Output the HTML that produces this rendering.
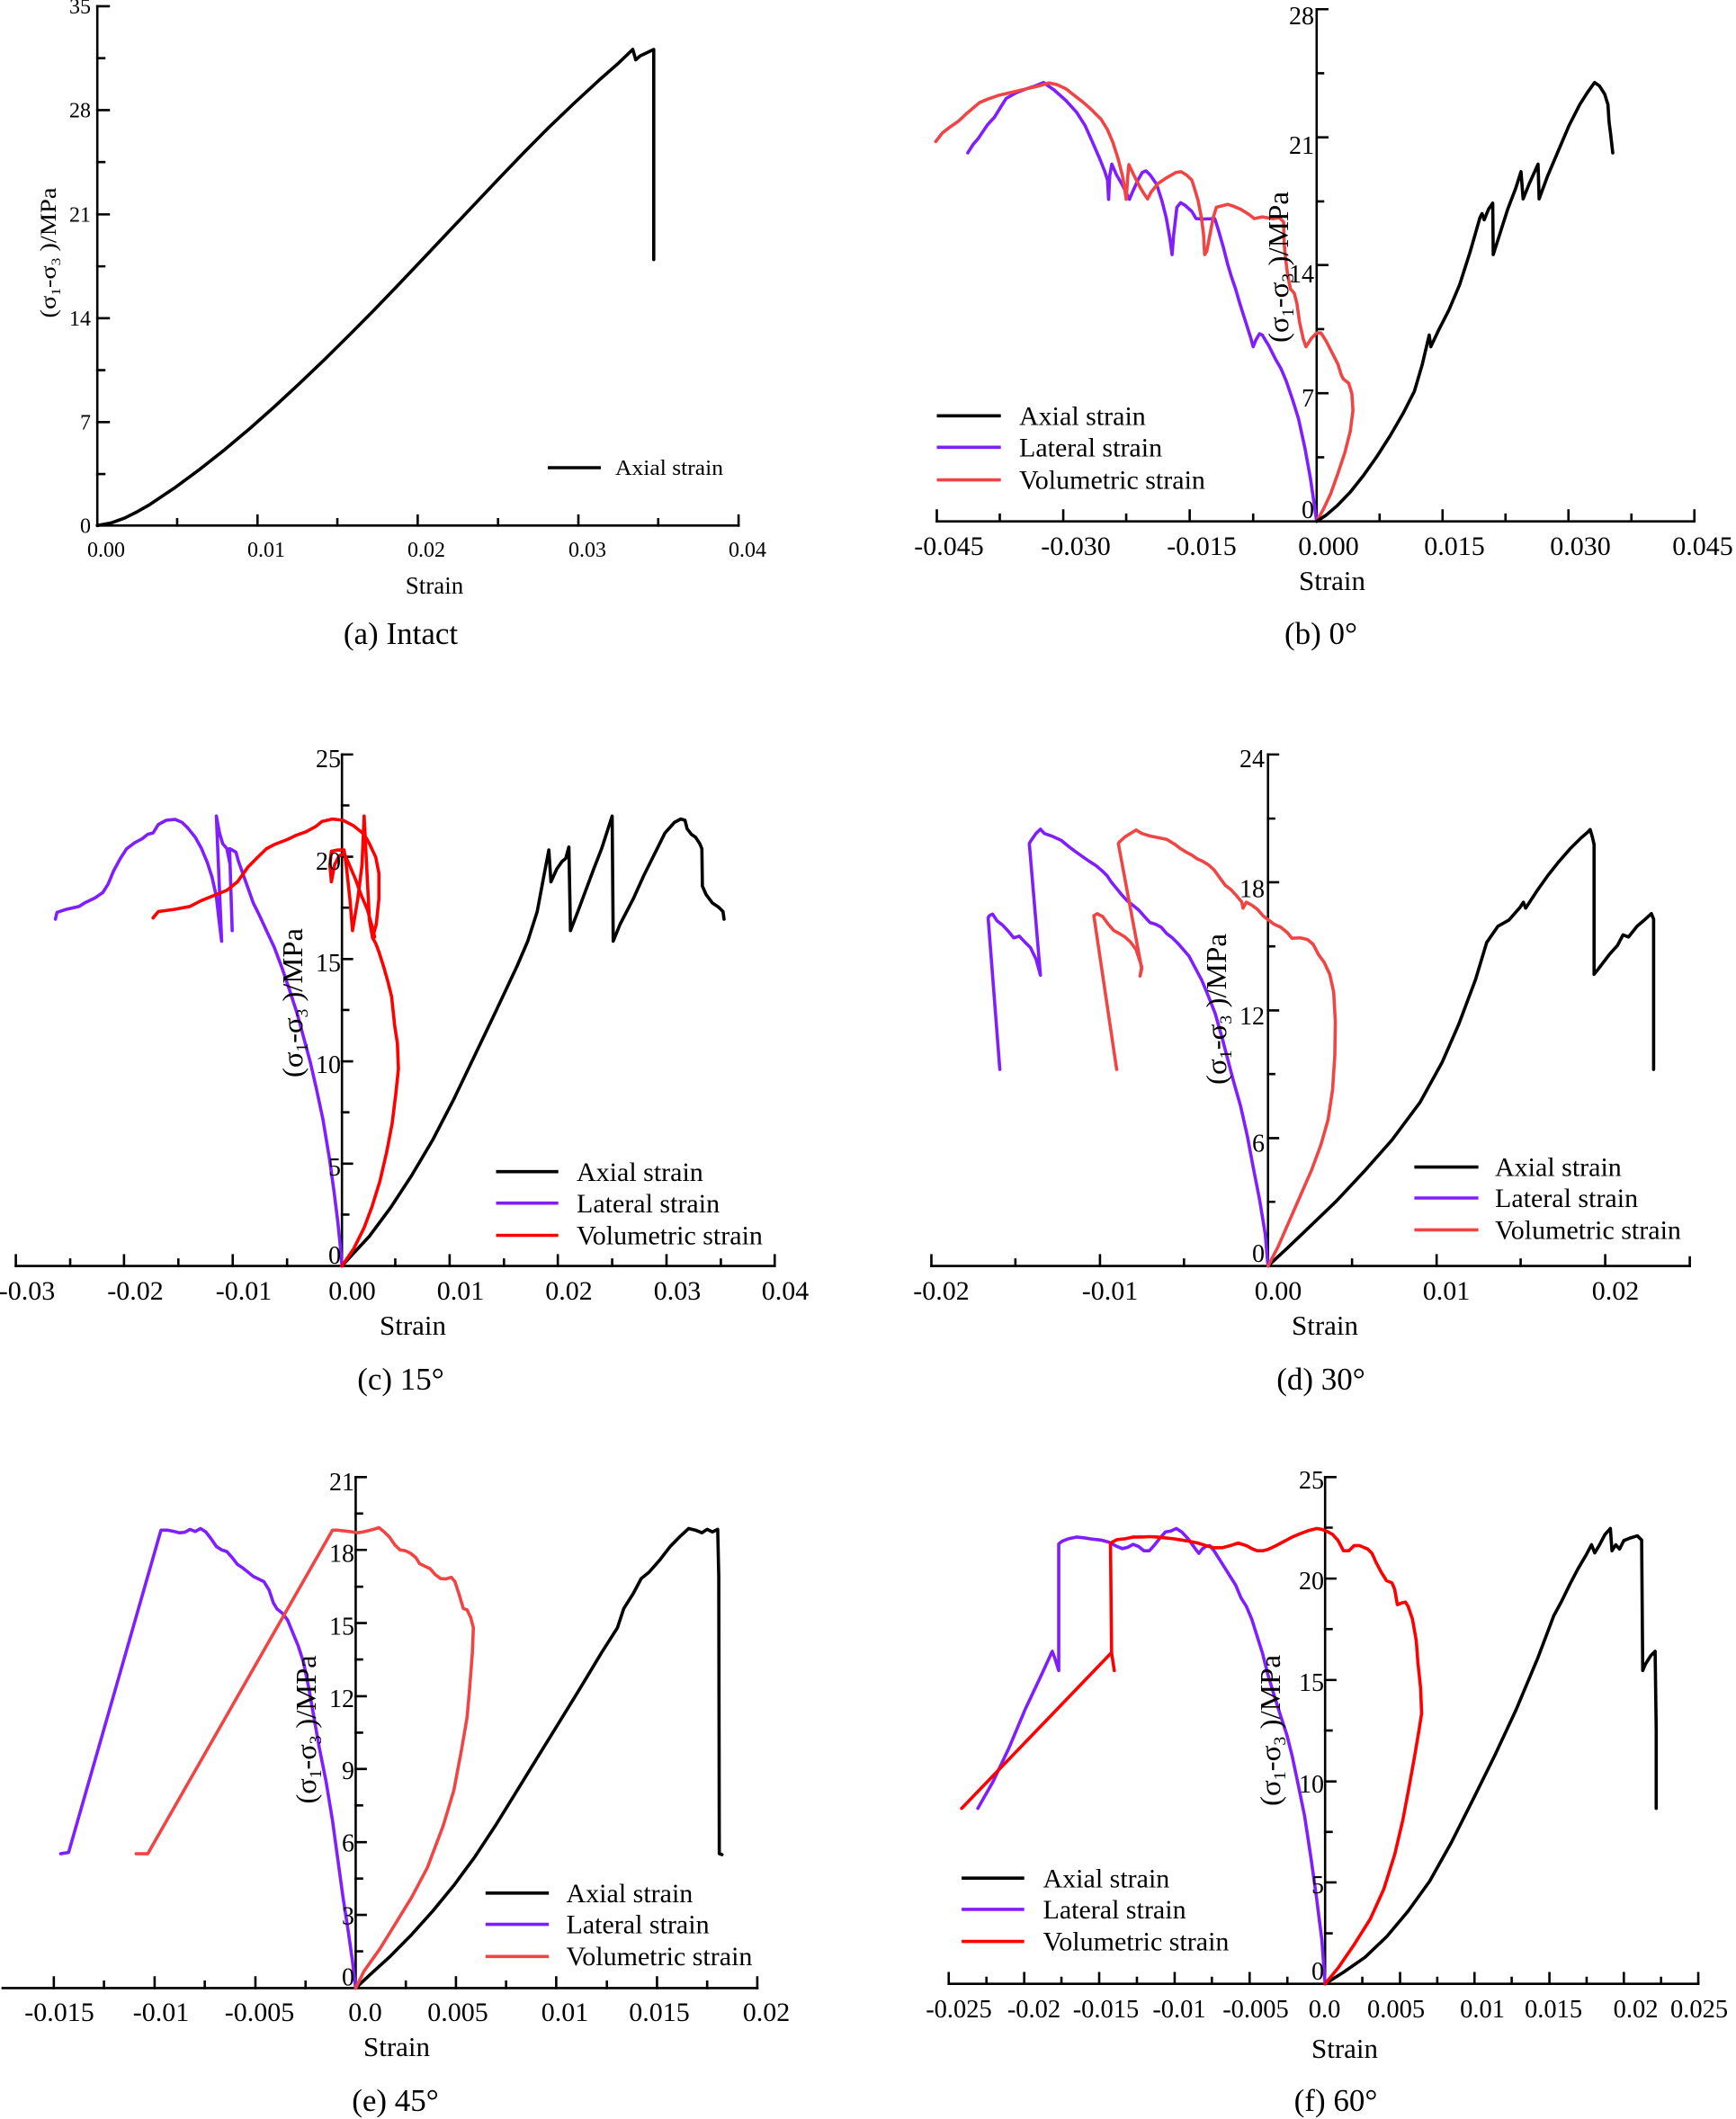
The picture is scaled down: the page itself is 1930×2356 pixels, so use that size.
<!DOCTYPE html>
<html>
<head>
<meta charset="utf-8">
<style>
html,body{margin:0;padding:0;background:#fff;}
svg{display:block;}
.ax{fill:none;stroke:#000;stroke-width:2.6;vector-effect:non-scaling-stroke;stroke-linecap:square}
.s{fill:none;stroke-width:3.6;stroke-linejoin:round;stroke-linecap:round;vector-effect:non-scaling-stroke}
.k{stroke:#000}
.p{stroke:#7f1fff}
.r{stroke:#f04545}
.rr{stroke:#ff0000}
text{font-family:"Liberation Serif","Times New Roman",serif;fill:#000}
.tl{font-size:30px}
.ty{font-size:28px}
.ta{font-size:24px}
.yl{text-anchor:end}
.xl{text-anchor:middle}
.lg{font-size:30px}
.st{font-size:31px;text-anchor:middle}
.cap{font-size:35px;text-anchor:middle}
.yt{font-size:32px;text-anchor:middle}
.ll{stroke-width:3.6;fill:none}
</style>
</head>
<body>
<svg width="1930" height="2356" viewBox="0 0 1930 2356" xmlns="http://www.w3.org/2000/svg">
<rect width="1930" height="2356" fill="#fff"/>

<!-- ================= (a) ================= -->
<g transform="translate(0,0) scale(0.5548,0.4656)">
  <path class="ax" d="M195,15 V1255 H1480"/>
  <path class="ax" d="M195,15h23M195,263h23M195,512h23M195,760h23M195,1008h23M195,139h14M195,387h14M195,636h14M195,884h14M195,1132h14"/>
  <path class="ax" d="M516,1255v-24M837,1255v-24M1159,1255v-24M1480,1255v-24M355,1255v-15M676,1255v-15M998,1255v-15M1319,1255v-15"/>
  <path class="s k" d="M195,1255 L222,1249 L250,1237 L275,1222 L300,1205 L350,1165 L400,1121 L450,1074 L500,1024 L550,971 L600,916 L650,859 L700,800 L750,740 L800,678 L850,615 L900,552 L950,489 L1000,426 L1050,364 L1100,304 L1150,247 L1200,192 L1240,150 L1268,118 L1274,143 L1282,134 L1310,118 L1310,620"/>
</g>
<g class="ta yl">
  <text x="101" y="15">35</text>
  <text x="101" y="130.5">28</text>
  <text x="101" y="246.4">21</text>
  <text x="101" y="361.9">14</text>
  <text x="101" y="477.3">7</text>
  <text x="101" y="592.3">0</text>
</g>
<g class="ta xl">
  <text x="118" y="619">0.00</text>
  <text x="296" y="619">0.01</text>
  <text x="474" y="619">0.02</text>
  <text x="653" y="619">0.03</text>
  <text x="831" y="619">0.04</text>
</g>
<text x="483" y="660" style="font-size:27px;text-anchor:middle">Strain</text>
<line x1="609" y1="520" x2="668" y2="520" class="ll" stroke="#000"/>
<text x="684" y="528" style="font-size:24px" textLength="120" lengthAdjust="spacingAndGlyphs">Axial strain</text>
<text transform="translate(62,281) rotate(-90)" style="font-size:25px;text-anchor:middle" textLength="145" lengthAdjust="spacingAndGlyphs">(σ<tspan font-size="15" dy="5">1</tspan><tspan dy="-5">-σ</tspan><tspan font-size="15" dy="5">3</tspan><tspan dy="-5"> )/MPa</tspan></text>
<text x="445.5" y="716" class="cap">(a) Intact</text>

<!-- ================= (b) ================= -->
<g transform="translate(1000,0) scale(0.5931,0.4656)">
  <path class="ax" d="M782,22 V1245 M70,1245 H1490"/>
  <path class="ax" d="M782,22h20M782,328h20M782,633h20M782,939h20M782,175h12M782,481h12M782,786h12M782,1092h12"/>
  <path class="ax" d="M70,1245v-26M307,1245v-26M544,1245v-26M1018,1245v-26M1254,1245v-26M1490,1245v-26M188,1245v-16M425,1245v-16M663,1245v-16M900,1245v-16M1136,1245v-16M1372,1245v-16"/>
  <path class="s p" d="M782,1245 L777,1200 L770,1140 L760,1070 L748,1000 L737,955 L725,910 L715,880 L705,858 L692,825 L680,800 L675,797 L668,812 L663,828 L658,805 L648,765 L638,725 L630,690 L622,660 L615,630 L607,590 L598,550 L591,522 L570,523 L556,522 L548,505 L535,490 L527,484 L520,495 L514,560 L511,608 L507,570 L500,520 L492,480 L482,440 L470,418 L462,408 L455,412 L447,430 L438,455 L431,476 L425,460 L417,440 L407,418 L398,392 L394,420 L392,476 L390,430 L385,410 L375,378 L362,340 L348,300 L332,268 L312,240 L290,215 L270,197 L255,205 L238,212 L218,222 L200,235 L190,255 L178,280 L165,298 L148,330 L138,345 L128,365"/>
  <path class="s r" d="M782,1245 L795,1215 L808,1180 L822,1130 L835,1080 L845,1030 L850,980 L848,940 L842,915 L832,905 L828,895 L822,870 L812,845 L800,815 L790,795 L782,795 L772,808 L762,828 L757,810 L750,770 L745,725 L740,700 L733,690 L728,660 L724,620 L721,580 L720,530 L712,520 L700,522 L680,518 L665,522 L655,512 L640,500 L625,492 L615,488 L600,493 L594,495 L588,520 L582,560 L576,600 L572,608 L570,560 L566,520 L560,480 L553,450 L548,430 L538,418 L528,410 L518,412 L500,425 L485,438 L472,458 L465,475 L458,462 L450,445 L440,420 L430,393 L428,420 L425,476 L422,450 L418,420 L410,380 L400,340 L390,310 L378,285 L360,262 L345,245 L328,228 L312,212 L295,202 L280,198 L262,205 L245,210 L225,216 L205,222 L185,228 L165,237 L150,245 L138,258 L125,272 L110,290 L95,303 L80,318 L68,338"/>
  <path class="s k" d="M782,1245 L800,1230 L820,1208 L845,1175 L870,1135 L895,1090 L920,1040 L945,985 L965,935 L980,870 L993,800 L996,828 L1010,790 L1030,740 L1050,680 L1070,600 L1088,520 L1092,510 L1096,525 L1104,500 L1112,485 L1113,608 L1125,560 L1140,500 L1155,450 L1165,410 L1169,475 L1180,440 L1197,392 L1199,475 L1215,420 L1235,360 L1255,300 L1275,250 L1290,220 L1303,197 L1312,205 L1322,225 L1328,250 L1330,290 L1333,320 L1337,365"/>
</g>
<g class="ty yl">
  <text x="1461" y="27">28</text>
  <text x="1461" y="171">21</text>
  <text x="1461" y="314">14</text>
  <text x="1461" y="452">7</text>
  <text x="1461" y="576">0</text>
</g>
<g class="tl xl">
  <text x="1055" y="617">-0.045</text>
  <text x="1196" y="617">-0.030</text>
  <text x="1336" y="617">-0.015</text>
  <text x="1477" y="617">0.000</text>
  <text x="1617" y="617">0.015</text>
  <text x="1757" y="617">0.030</text>
  <text x="1893" y="617">0.045</text>
</g>
<text x="1481" y="656" class="st">Strain</text>
<line x1="1041.5" y1="462.3" x2="1112.7" y2="462.3" class="ll" stroke="#000"/>
<line x1="1041.5" y1="497.3" x2="1112.7" y2="497.3" class="ll" stroke="#7f1fff"/>
<line x1="1041.5" y1="533.6" x2="1112.7" y2="533.6" class="ll" stroke="#f04545"/>
<text x="1133" y="472.5" class="lg">Axial strain</text>
<text x="1133" y="507.5" class="lg">Lateral strain</text>
<text x="1133" y="543.5" class="lg">Volumetric strain</text>
<text transform="translate(1432,297) rotate(-90)" class="yt" textLength="168" lengthAdjust="spacingAndGlyphs">(σ<tspan font-size="19" dy="6">1</tspan><tspan dy="-6">-σ</tspan><tspan font-size="19" dy="6">3</tspan><tspan dy="-6"> )/MPa</tspan></text>
<text x="1468.5" y="716" class="cap">(b) 0°</text>

<!-- ================= (c) ================= -->
<g transform="translate(0,820) scale(0.5867,0.4719)">
  <path class="ax" d="M648,40 V1245 M30,1245 H1468"/>
  <path class="ax" d="M648,40h19M648,281h19M648,522h19M648,763h19M648,1004h19M648,160h12M648,401h12M648,642h12M648,883h12M648,1124h12"/>
  <path class="ax" d="M30,1245v-25M235,1245v-25M441,1245v-25M852,1245v-25M1057,1245v-25M1263,1245v-25M1468,1245v-25M133,1245v-15M338,1245v-15M544,1245v-15M749,1245v-15M955,1245v-15M1160,1245v-15M1366,1245v-15"/>
  <path class="s k" d="M648,1245 L670,1215 L700,1175 L740,1108 L780,1032 L820,948 L860,852 L900,748 L940,644 L980,538 L1000,480 L1018,410 L1030,330 L1040,265 L1044,340 L1055,310 L1065,292 L1072,285 L1078,258 L1081,455 L1095,410 L1110,360 L1125,310 L1140,262 L1160,185 L1162,480 L1175,440 L1200,380 L1220,325 L1240,275 L1260,225 L1278,200 L1290,192 L1298,195 L1302,215 L1310,228 L1318,235 L1326,250 L1330,262 L1331,350 L1338,370 L1350,390 L1362,400 L1370,410 L1372,428"/>
  <path class="s p" d="M648,1245 L645,1200 L640,1140 L633,1070 L624,990 L612,900 L600,830 L588,765 L575,705 L563,650 L550,600 L535,545 L520,495 L505,455 L492,420 L480,390 L470,355 L460,320 L452,292 L447,270 L440,265 L435,262 L440,455 L436,300 L430,262 L422,250 L416,225 L410,185 L420,480 L415,430 L410,375 L402,330 L393,295 L382,262 L370,235 L355,212 L345,200 L332,193 L315,195 L300,205 L290,225 L280,228 L270,238 L255,248 L240,262 L228,285 L215,315 L205,345 L195,365 L180,378 L160,390 L150,398 L125,405 L108,412 L105,428"/>
  <path class="s rr" d="M648,1245 L670,1205 L690,1155 L705,1105 L720,1045 L733,975 L743,910 L750,840 L755,780 L753,720 L748,680 L742,610 L735,575 L727,540 L718,505 L712,485 L706,472 L713,440 L718,380 L718,320 L712,282 L700,250 L690,228 L670,208 L650,195 L630,192 L610,198 L598,210 L580,222 L562,230 L545,240 L520,252 L505,262 L490,280 L470,305 L450,340 L430,360 L410,370 L380,385 L360,398 L330,405 L300,410 L290,425 M706,472 L700,430 L690,185 L686,300 L678,380 L668,455 L663,380 L656,300 L652,265 L640,265 L628,268 L625,300 L628,340 L634,300 L642,280 L652,272 L662,300 L674,335 L684,370 L696,405 L704,440 L710,470"/>
</g>
<g class="ty yl">
  <text x="379" y="853">25</text>
  <text x="379" y="967">20</text>
  <text x="379" y="1080">15</text>
  <text x="379" y="1193">10</text>
  <text x="379" y="1307">5</text>
  <text x="379" y="1405">0</text>
</g>
<g class="tl xl">
  <text x="30" y="1445">-0.03</text>
  <text x="150.5" y="1445">-0.02</text>
  <text x="271" y="1445">-0.01</text>
  <text x="391.5" y="1445">0.00</text>
  <text x="512" y="1445">0.01</text>
  <text x="632.5" y="1445">0.02</text>
  <text x="753" y="1445">0.03</text>
  <text x="873" y="1445">0.04</text>
</g>
<text x="459" y="1484" class="st">Strain</text>
<line x1="551.5" y1="1302.7" x2="620.7" y2="1302.7" class="ll" stroke="#000"/>
<line x1="551.5" y1="1337.7" x2="620.7" y2="1337.7" class="ll" stroke="#7f1fff"/>
<line x1="551.5" y1="1373.5" x2="620.7" y2="1373.5" class="ll" stroke="#ff0000"/>
<text x="641" y="1313" class="lg">Axial strain</text>
<text x="641" y="1348" class="lg">Lateral strain</text>
<text x="641" y="1383.5" class="lg">Volumetric strain</text>
<text transform="translate(336,1115) rotate(-90)" class="yt" textLength="166" lengthAdjust="spacingAndGlyphs">(σ<tspan font-size="19" dy="6">1</tspan><tspan dy="-6">-σ</tspan><tspan font-size="19" dy="6">3</tspan><tspan dy="-6"> )/MPa</tspan></text>
<text x="445.5" y="1545" class="cap">(c) 15°</text>

<!-- ================= (d) ================= -->
<g transform="translate(960,820) scale(0.6186,0.4719)">
  <path class="ax" d="M727,40 V1245 M122,1245 H1485"/>
  <path class="ax" d="M727,40h18M727,341h18M727,643h18M727,944h18M727,191h11M727,492h11M727,793h11M727,1094h11"/>
  <path class="ax" d="M122,1245v-25M425,1245v-25M1030,1245v-25M1333,1245v-25M1485,1245v-20M273,1245v-15M576,1245v-15M878,1245v-15M1181,1245v-15"/>
  <path class="s k" d="M727,1245 L760,1205 L800,1155 L850,1092 L900,1022 L950,948 L1000,860 L1040,765 L1070,675 L1100,570 L1120,483 L1140,445 L1160,430 L1180,400 L1186,388 L1190,402 L1210,362 L1230,325 L1250,292 L1270,262 L1290,236 L1300,225 L1306,217 L1310,235 L1313,252 L1313,558 L1322,543 L1340,512 L1355,490 L1365,465 L1375,470 L1390,445 L1405,428 L1416,415 L1420,428 L1420,782"/>
  <path class="s p" d="M727,1245 L722,1170 L712,1090 L700,1010 L690,940 L678,870 L665,810 L655,760 L645,710 L632,650 L620,610 L608,572 L595,540 L585,515 L575,500 L565,485 L555,472 L545,462 L535,447 L525,440 L515,436 L505,422 L495,407 L485,396 L475,386 L465,372 L455,356 L445,340 L438,326 L428,313 L418,302 L405,291 L395,282 L380,268 L368,256 L355,242 L340,233 L325,226 L318,216 L310,226 L300,245 L298,250 L318,560 L310,522 L300,495 L290,482 L280,468 L270,472 L260,456 L250,442 L240,432 L232,416 L226,420 L224,425 L245,782"/>
  <path class="s r" d="M727,1245 L745,1200 L765,1140 L785,1080 L805,1020 L822,960 L835,900 L843,830 L847,750 L848,670 L845,600 L838,558 L828,530 L818,512 L808,487 L798,476 L785,472 L770,473 L762,460 L750,447 L738,440 L728,430 L718,420 L708,405 L698,395 L688,388 L682,402 L680,388 L670,372 L660,358 L650,348 L640,330 L630,312 L620,300 L610,292 L600,286 L590,277 L580,270 L570,262 L560,252 L545,240 L530,236 L515,232 L500,226 L490,218 L480,226 L470,234 L460,246 L458,250 L500,545 L497,562 L500,540 L490,500 L480,482 L470,470 L460,462 L450,455 L440,440 L430,422 L420,415 L414,420 L455,782"/>
</g>
<g class="ty yl">
  <text x="1406" y="853">24</text>
  <text x="1406" y="997.5">18</text>
  <text x="1406" y="1139">12</text>
  <text x="1406" y="1280.5">6</text>
  <text x="1406" y="1403">0</text>
</g>
<g class="tl xl">
  <text x="1046.5" y="1445">-0.02</text>
  <text x="1234" y="1445">-0.01</text>
  <text x="1421" y="1445">0.00</text>
  <text x="1608" y="1445">0.01</text>
  <text x="1796" y="1445">0.02</text>
</g>
<text x="1473" y="1484" class="st">Strain</text>
<line x1="1572.4" y1="1297.6" x2="1643.6" y2="1297.6" class="ll" stroke="#000"/>
<line x1="1572.4" y1="1332" x2="1643.6" y2="1332" class="ll" stroke="#7f1fff"/>
<line x1="1572.4" y1="1367.4" x2="1643.6" y2="1367.4" class="ll" stroke="#f04545"/>
<text x="1662" y="1307.5" class="lg">Axial strain</text>
<text x="1662" y="1342" class="lg">Lateral strain</text>
<text x="1662" y="1377.5" class="lg">Volumetric strain</text>
<text transform="translate(1363,1122) rotate(-90)" class="yt" textLength="168" lengthAdjust="spacingAndGlyphs">(σ<tspan font-size="19" dy="6">1</tspan><tspan dy="-6">-σ</tspan><tspan font-size="19" dy="6">3</tspan><tspan dy="-6"> )/MPa</tspan></text>
<text x="1468.5" y="1545" class="cap">(d) 30°</text>

<!-- ================= (e) ================= -->
<g transform="translate(0,1610) scale(0.5867,0.4758)">
  <path class="ax" d="M674,68 V1262 M5,1262 H1435"/>
  <path class="ax" d="M674,68h19M674,238h19M674,409h19M674,580h19M674,750h19M674,921h19M674,1091h19M674,153h12M674,324h12M674,494h12M674,665h12M674,835h12M674,1006h12M674,1176h12"/>
  <path class="ax" d="M102,1262v-25M293,1262v-25M484,1262v-25M864,1262v-25M1054,1262v-25M1245,1262v-25M1435,1262v-25M197,1262v-15M388,1262v-15M579,1262v-15M769,1262v-15M959,1262v-15M1150,1262v-15M1340,1262v-15"/>
  <path class="s k" d="M674,1262 L700,1232 L740,1187 L780,1137 L820,1082 L860,1022 L900,955 L940,880 L980,800 L1020,720 L1060,640 L1100,560 L1140,478 L1170,420 L1182,375 L1200,340 L1215,305 L1230,290 L1250,262 L1270,230 L1290,205 L1305,188 L1318,192 L1330,198 L1340,190 L1350,196 L1360,190 L1362,300 L1363,948 L1368,950"/>
  <path class="s p" d="M674,1262 L668,1200 L660,1130 L650,1050 L640,960 L630,870 L618,780 L605,700 L595,630 L585,560 L575,500 L565,462 L555,432 L545,402 L535,386 L525,376 L518,362 L510,332 L500,312 L490,306 L480,300 L470,290 L460,280 L450,272 L440,256 L430,242 L420,238 L410,230 L400,212 L390,196 L380,188 L370,195 L360,190 L350,197 L340,198 L330,195 L318,192 L305,192 L130,945 L115,948"/>
  <path class="s r" d="M674,1262 L690,1222 L720,1170 L750,1110 L780,1050 L810,980 L840,882 L860,800 L875,702 L885,630 L890,560 L895,480 L897,420 L892,396 L885,378 L878,375 L870,342 L862,312 L855,302 L845,306 L835,305 L825,296 L815,282 L805,276 L795,270 L788,256 L778,246 L768,240 L758,238 L748,226 L738,208 L728,196 L718,186 L708,190 L698,193 L688,196 L678,198 L668,196 L655,194 L640,192 L630,192 L280,948 L258,948"/>
</g>
<g class="ty yl">
  <text x="394" y="1657">21</text>
  <text x="394" y="1736.5">18</text>
  <text x="394" y="1817.5">15</text>
  <text x="394" y="1898">12</text>
  <text x="394" y="1978">9</text>
  <text x="394" y="2058.5">6</text>
  <text x="394" y="2139.5">3</text>
  <text x="394" y="2207.5">0</text>
</g>
<g class="tl xl">
  <text x="66" y="2247">-0.015</text>
  <text x="179" y="2247">-0.01</text>
  <text x="288.5" y="2247">-0.005</text>
  <text x="406" y="2247">0.0</text>
  <text x="509" y="2247">0.005</text>
  <text x="628" y="2247">0.01</text>
  <text x="733" y="2247">0.015</text>
  <text x="852" y="2247">0.02</text>
</g>
<text x="441" y="2286" class="st">Strain</text>
<line x1="539.8" y1="2104.8" x2="610.2" y2="2104.8" class="ll" stroke="#000"/>
<line x1="539.8" y1="2139.6" x2="610.2" y2="2139.6" class="ll" stroke="#7f1fff"/>
<line x1="539.8" y1="2175.3" x2="610.2" y2="2175.3" class="ll" stroke="#f04545"/>
<text x="629.5" y="2115" class="lg">Axial strain</text>
<text x="629.5" y="2149.5" class="lg">Lateral strain</text>
<text x="629.5" y="2185" class="lg">Volumetric strain</text>
<text transform="translate(351,1923) rotate(-90)" class="yt" textLength="165" lengthAdjust="spacingAndGlyphs">(σ<tspan font-size="19" dy="6">1</tspan><tspan dy="-6">-σ</tspan><tspan font-size="19" dy="6">3</tspan><tspan dy="-6"> )/MPa</tspan></text>
<text x="439.5" y="2347" class="cap">(e) 45°</text>

<!-- ================= (f) ================= -->
<g transform="translate(990,1610) scale(0.5995,0.4758)">
  <path class="ax" d="M806,68 V1252 M108,1252 H1498"/>
  <path class="ax" d="M806,68h19M806,305h19M806,542h19M806,779h19M806,1015h19M806,186h12M806,423h12M806,660h12M806,897h12M806,1134h12"/>
  <path class="ax" d="M108,1252v-25M248,1252v-25M387,1252v-25M527,1252v-25M666,1252v-25M945,1252v-25M1083,1252v-25M1222,1252v-25M1360,1252v-25M1498,1252v-25M178,1252v-14M317,1252v-14M457,1252v-14M596,1252v-14M736,1252v-14M875,1252v-14M1014,1252v-14M1152,1252v-14M1291,1252v-14M1429,1252v-14"/>
  <path class="s k" d="M806,1252 L840,1225 L880,1190 L920,1142 L960,1082 L1000,1012 L1040,922 L1080,822 L1120,720 L1160,612 L1200,492 L1230,392 L1245,357 L1260,318 L1275,282 L1290,250 L1300,226 L1306,245 L1315,226 L1325,202 L1335,188 L1338,240 L1345,226 L1352,236 L1360,216 L1370,211 L1385,205 L1393,215 L1395,520 L1400,505 L1410,485 L1418,475 L1420,660 L1420,842"/>
  <path class="s p" d="M806,1252 L800,1150 L790,1050 L780,960 L768,860 L755,780 L745,720 L735,670 L722,620 L712,580 L700,530 L690,480 L680,440 L670,400 L660,370 L650,350 L640,320 L630,300 L620,280 L610,260 L600,240 L592,228 L585,230 L578,236 L572,246 L568,240 L560,226 L552,212 L540,196 L530,188 L520,194 L510,196 L500,210 L490,226 L480,240 L470,240 L460,230 L450,225 L440,232 L430,235 L420,230 L405,220 L390,215 L375,213 L360,210 L345,208 L330,212 L318,218 L312,224 L312,520 L305,492 L300,475 L280,530 L250,610 L220,700 L190,780 L162,842"/>
  <path class="s rr" d="M806,1252 L830,1215 L860,1160 L890,1100 L915,1030 L935,950 L950,870 L962,790 L972,720 L980,660 L985,620 L983,560 L978,500 L975,450 L968,400 L960,370 L955,360 L948,362 L940,366 L935,330 L930,315 L920,310 L915,300 L910,290 L900,266 L893,246 L885,236 L870,228 L860,228 L850,240 L840,240 L830,216 L820,202 L810,195 L800,190 L790,188 L775,193 L760,200 L745,208 L730,218 L715,228 L700,237 L690,240 L680,240 L670,235 L660,228 L645,222 L630,228 L615,233 L600,233 L585,228 L570,222 L555,218 L540,215 L525,212 L510,210 L495,208 L480,207 L465,208 L450,208 L435,212 L420,214 L408,222 L410,478 L415,520 L410,478 L132,842"/>
</g>
<g class="ty yl">
  <text x="1472" y="1655">25</text>
  <text x="1472" y="1767">20</text>
  <text x="1472" y="1880">15</text>
  <text x="1472" y="1993">10</text>
  <text x="1472" y="2105">5</text>
  <text x="1472" y="2201">0</text>
</g>
<g class="xl" style="font-size:28.5px">
  <text x="1066" y="2243">-0.025</text>
  <text x="1149.5" y="2243">-0.02</text>
  <text x="1229.5" y="2243">-0.015</text>
  <text x="1311" y="2243">-0.01</text>
  <text x="1396" y="2243">-0.005</text>
  <text x="1472.5" y="2243">0.0</text>
  <text x="1552" y="2243">0.005</text>
  <text x="1648" y="2243">0.01</text>
  <text x="1727" y="2243">0.015</text>
  <text x="1818.5" y="2243">0.02</text>
  <text x="1889" y="2243">0.025</text>
</g>
<text x="1495" y="2288" class="st">Strain</text>
<line x1="1069.1" y1="2088.2" x2="1138.7" y2="2088.2" class="ll" stroke="#000"/>
<line x1="1069.1" y1="2122.9" x2="1138.7" y2="2122.9" class="ll" stroke="#7f1fff"/>
<line x1="1069.1" y1="2158.6" x2="1138.7" y2="2158.6" class="ll" stroke="#ff0000"/>
<text x="1159.5" y="2098.5" class="lg">Axial strain</text>
<text x="1159.5" y="2133" class="lg">Lateral strain</text>
<text x="1159.5" y="2168.5" class="lg">Volumetric strain</text>
<text transform="translate(1423,1924) rotate(-90)" class="yt" textLength="168" lengthAdjust="spacingAndGlyphs">(σ<tspan font-size="19" dy="6">1</tspan><tspan dy="-6">-σ</tspan><tspan font-size="19" dy="6">3</tspan><tspan dy="-6"> )/MPa</tspan></text>
<text x="1485" y="2347" class="cap">(f) 60°</text>

</svg>
</body>
</html>
